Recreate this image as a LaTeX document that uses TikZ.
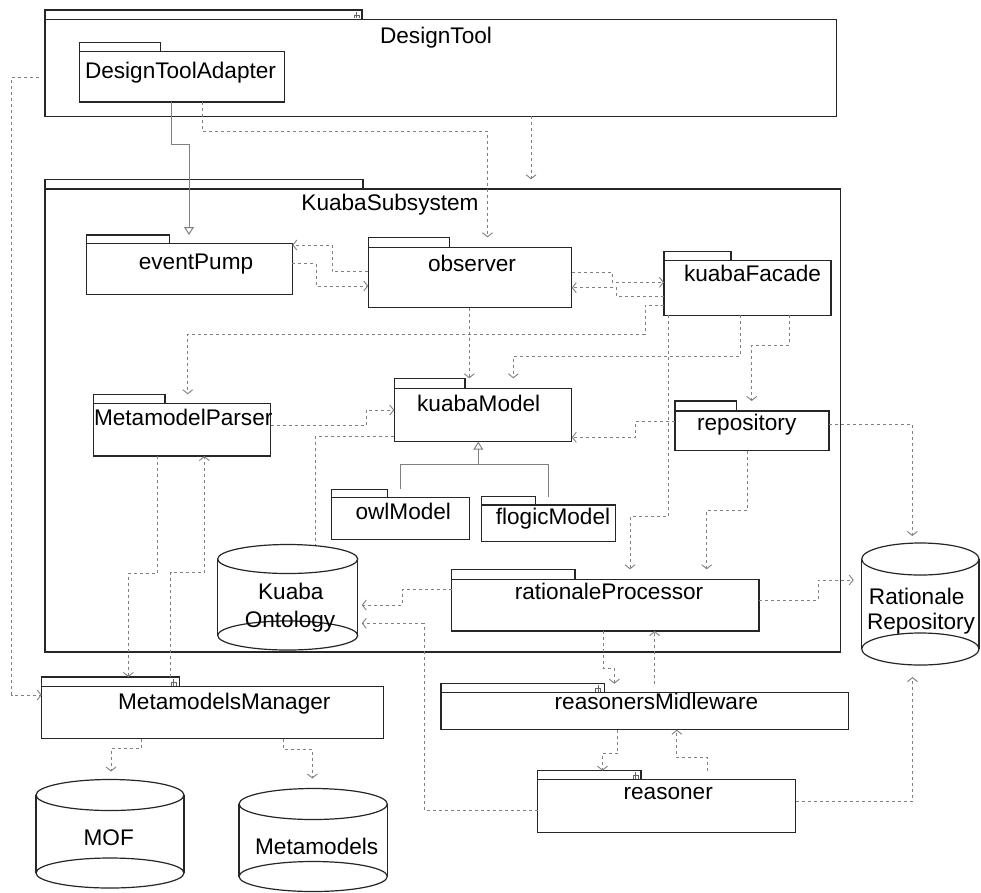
\documentclass[tikz,border=0pt]{standalone}
\usepackage{fontspec}
\setmainfont{Liberation Sans}
\usetikzlibrary{arrows.meta}
\newcommand\pkg[7]{% name, x1, tabtop, tabright, boxtop, x2, bottom
  \draw[pk] (#2,#3) rectangle (#4,#5);
  \draw[pk] (#2,#5) rectangle (#6,#7);
  \node[inner sep=0pt, outer sep=0pt, minimum width={(#6-#2)*1pt}, minimum height={(#7-#3)*1pt}] (#1) at ({(#2+#6)/2},{(#3+#7)/2}) {};
}
\newcommand\cyl[7]{% name, x1, x2, ytop, ybot, ry1, ry2
  \draw[pk] (#2,#4) -- (#2,#5) (#3,#4) -- (#3,#5);
  \draw[pk] ({(#2+#3)/2},#4) ellipse [x radius={(#3-#2)/2*1pt}, y radius=#6pt];
  \draw[pk] ({(#2+#3)/2},#5) ellipse [x radius={(#3-#2)/2*1pt}, y radius=#7pt];
  \node[inner sep=0pt, outer sep=0pt, minimum width={(#3-#2)*1pt}, minimum height={(#5-#4+#6+#7)*1pt}] (#1) at ({(#2+#3)/2},{(#4-#6+#5+#7)/2}) {};
}
\newcommand\ficon[2]{%
  \draw[black!60, line width=0.6pt] (#1,#2-3) -- (#1,#2+3.5) (#1-2.5,#2+3.5) -- (#1-2.5,#2+0.5) -- (#1+2.5,#2+0.5) -- (#1+2.5,#2+3.5);
}
\begin{document}
\begin{tikzpicture}[x=1pt,y=-1pt,
  pk/.style={draw=black!85, line width=1.2pt},
  lbl/.style={font=\fontsize{22.6}{26}\selectfont, inner sep=0pt, anchor=base, yshift=-8pt},
  dep/.style={draw=black!50, line width=0.9pt, dash pattern=on 3pt off 3pt, -{Straight Barb[length=4pt,width=10pt]}},
  depn/.style={draw=black!50, line width=0.9pt, dash pattern=on 3pt off 3pt},
  gen/.style={draw=black!50, line width=1pt},
  gtip/.style={-{Triangle[open,length=8pt,width=10pt]}},
]
\useasboundingbox (0,0) rectangle (981,892);
\fill[white] (0,0) rectangle (981,892);

% packages
\pkg{DT}{45}{10}{362}{19.3}{836.7}{116.3}
\pkg{KS}{45}{179.3}{362.9}{189}{840.7}{652}
\pkg{DTA}{79.3}{42.7}{160.7}{51.7}{284.6}{102}
\pkg{EP}{86.7}{235}{169.3}{243.7}{292.3}{294.7}
\pkg{OBS}{368.3}{237.3}{449.3}{247.3}{571.7}{307.7}
\pkg{KF}{664}{251.7}{731}{260.7}{831}{315.3}
\pkg{KM}{394.3}{378.3}{465}{388.3}{571.7}{441.7}
\pkg{MP}{93.3}{394.3}{165}{403.3}{270.7}{456}
\pkg{REP}{675}{401}{736.7}{411}{829}{450.7}
\pkg{OM}{331.7}{489.3}{387.3}{497.7}{469.3}{539.3}
\pkg{FM}{481.7}{496.7}{535.3}{505}{615.7}{541.7}
\pkg{RP}{451.7}{569.3}{575}{579.3}{759}{631}
\pkg{MM}{41.7}{677}{179.3}{686.7}{383.7}{738.7}
\pkg{RM}{441}{683.7}{604.3}{692.3}{848.2}{729.7}
\pkg{RSN}{537.5}{770.7}{641}{779.3}{795.7}{832.7}

\ficon{356.7}{14.5}
\ficon{173.3}{682}
\ficon{598}{688}
\ficon{635.7}{775}

% cylinders
\cyl{KO}{217.7}{357.7}{559}{635.5}{14.5}{14.5}
\cyl{RR}{861.7}{979}{559}{649}{16}{16}
\cyl{MOF}{36}{184}{795}{873}{15.5}{15}
\cyl{MET}{239}{387.3}{804}{876.5}{15.5}{15}

% labels
\node[lbl] (tDT) at (436,35) {DesignTool};
\node[lbl] (tDTA) at (180.5,70) {DesignToolAdapter};
\node[lbl] (tKS) at (390,202) {KuabaSubsystem};
\node[lbl] (tEP) at (196,261) {eventPump};
\node[lbl] (tOBS) at (472,263) {observer};
\node[lbl] (tKF) at (752.5,273.3) {kuabaFacade};
\node[lbl] (tKM) at (478.7,403.3) {kuabaModel};
\node[lbl] (tMP) at (183.2,417.3) {MetamodelParser};
\node[lbl] (tREP) at (746.7,422.7) {repository};
\node[lbl] (tOM) at (403.3,511.7) {owlModel};
\node[lbl] (tFM) at (553,516.7) {flogicModel};
\node[lbl] (tRP) at (609,591.7) {rationaleProcessor};
\node[lbl] (tMM) at (224.3,701.7) {MetamodelsManager};
\node[lbl] (tRM) at (656.4,701.7) {reasonersMidleware};
\node[lbl] (tRSN) at (668.2,791.7) {reasoner};
\node[lbl] (tKO1) at (290.8,591.7) {Kuaba};
\node[lbl] (tKO2) at (290,619.3) {Ontology};
\node[lbl] (tRR1) at (916.7,596) {Rationale};
\node[lbl] (tRR2) at (921,621.7) {Repository};
\node[lbl] (tMOF) at (108.7,837.3) {MOF};
\node[lbl] (tMET) at (316.7,846.7) {Metamodels};

% solid association DTA -> eventPump
\draw[gen, gtip] (DTA.south -| 171.4,0) -- (171.4,144.3) -| (EP.north -| 189,0);

% generalization
\draw[gen] (OM.north -| 400,0) |- (548.7,464.3) -- (FM.north -| 548.7,0);
\draw[gen, gtip] (478.3,464.3) -- (KM.south -| 478.3,0);

% dependencies
\draw[dep] ([xshift=-6pt]DT.west |- 0,77.3) -- (11.8,77.3) -- (11.8,695) -- (MM.west |- 0,695);
\draw[dep] (DTA.south -| 202,0) -- (202,131) -| (OBS.north -| 487.5,0);
\draw[dep] (DT.south -| 531,0) -- (KS.north -| 531,0);
\draw[dep] (OBS.west |- 0,271.7) -| (332.3,245) -- (EP.east |- 0,245);
\draw[dep] (EP.east |- 0,263.3) -| (316,286) -- (OBS.west |- 0,286);
\draw[dep] (OBS.east |- 0,272.7) -| (612.3,282.3) -- (KF.west |- 0,282.3);
\draw[dep] (KF.west |- 0,296.7) -| (616.7,287.7) -- (OBS.east |- 0,287.7);
\draw[dep] (OBS.south -| 469.3,0) -- (KM.north -| 469.3,0);
\draw[dep] (KF.south -| 740,0) |- (513.3,356) -- (KM.north -| 513.3,0);
\draw[dep] (KF.west |- 0,305) -| (645,334) -| (MP.north -| 187.7,0);
\draw[dep] (KF.south -| 789,0) |- (751.7,345) -- (REP.north -| 751.7,0);
\draw[dep] (KF.south -| 668.3,0) |- (630,516.7) -- (RP.north -| 630,0);
\draw[dep] (REP.west |- 0,421.7) -| (635.5,437.3) -- (KM.east |- 0,437.3);
\draw[dep, shorten >=7pt] (REP.east |- 0,424.3) -| (RR.north -| 912.3,0);
\draw[dep] (REP.south -| 747.3,0) |- (706.7,510) -- (RP.north -| 706.7,0);
\draw[dep] (MP.east |- 0,425.7) -| (366,410) -- (KM.west |- 0,410);
\draw[depn] (KM.west |- 0,436.7) -| (KO.north -| 315.3,0);
\draw[dep] (MP.south -| 157.7,0) |- (128.3,573.3) -- (MM.north -| 128.3,0);
\draw[dep] (MM.north -| 170.7,0) |- (204.3,572.7) -- (MP.south -| 204.3,0);
\draw[dep, shorten >=8pt] (MM.south -| 141,0) |- (111,748.3) -- (MOF.north -| 111,0);
\draw[dep, shorten >=10pt] (MM.south -| 283.3,0) |- (312.3,749.3) -- (MET.north -| 312.3,0);
\draw[dep, shorten >=4pt] (RP.west |- 0,589.3) -| (402.3,605) -- (KO.east |- 0,605);
\draw[dep, shorten >=4pt] (RSN.west |- 0,810) -| (424,623.3) -- (KO.east |- 0,623.3);
\draw[dep, shorten >=8pt] (RP.east |- 0,600) -| (818.3,580) -- (RR.west |- 0,580);
\draw[dep] (RP.south -| 603.3,0) |- (614.3,668.3) -- (RM.north -| 614.3,0);
\draw[dep] (RM.north -| 654.6,0) -- (RP.south -| 654.6,0);
\draw[dep] (RM.south -| 617.9,0) |- (602.5,753.3) -- (RSN.north -| 602.5,0);
\draw[dep] (RSN.north -| 707.9,0) |- (676.8,757.7) -- (RM.south -| 676.8,0);
\draw[dep, shorten >=12pt] (RSN.east |- 0,801) -| (RR.south -| 912.5,0);
\end{tikzpicture}
\end{document}
